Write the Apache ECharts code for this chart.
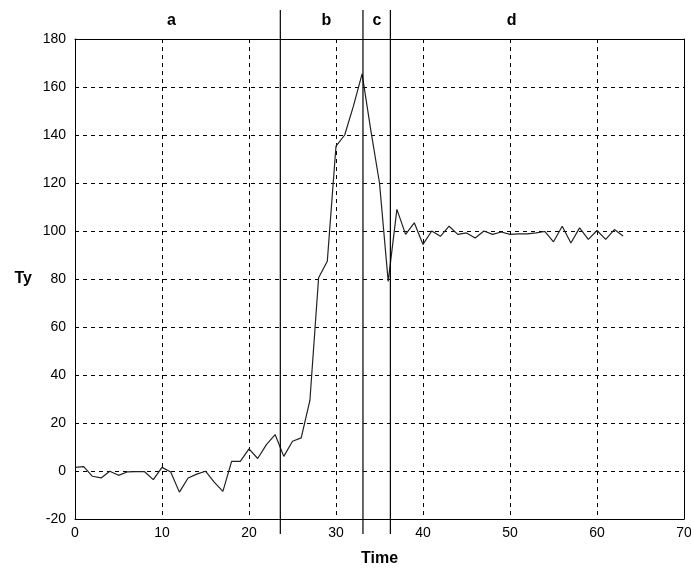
<!DOCTYPE html>
<html>
<head>
<meta charset="utf-8">
<script src="https://cdn.jsdelivr.net/npm/echarts@6/dist/echarts.min.js"></script>
<style>html,body{margin:0;padding:0;background:#fff;}#c{width:691px;height:569px;}</style>
</head>
<body>
<div id="c"></div>
<script>
// Data
var time = [0,1,2,3,4,5,6,7,8,9,10,11,12,13,14,15,16,17,18,19,20,21,22,23,24,25,26,27,28,29,30,31,32,33,34,35,36,37,38,39,40,41,42,43,44,45,46,47,48,49,50,51,52,53,54,55,56,57,58,59,60,61,62,63];
var ty = [1.5,1.8,-2.2,-2.9,-0.1,-1.8,-0.4,-0.3,-0.3,-3.6,1.5,-0.4,-8.8,-2.9,-1.3,-0.1,-4.6,-8.5,4,4,9.2,5.2,11,15.2,6.1,12.4,13.8,29.4,80.5,87.4,135.4,140,152,165.5,142,120,79,109,98.6,103.4,94.4,100,97.8,102,98.6,99.2,97.1,100,98.6,99.6,98.6,98.8,98.8,99.2,99.8,95.5,102,95,101.3,96.5,100.2,96.5,100.6,97.9];
var phaseBounds = [23.6, 33.1, 36.25];
var phaseNames = ['a','b','c','d'];
var phaseLabelX = [11.1, 28.9, 34.7, 50.2];
var xTicks = [0,10,20,30,40,50,60,70];
var yTicks = [-20,0,20,40,60,80,100,120,140,160,180];

var chart = echarts.init(document.getElementById('c'), null, {renderer:'canvas'});
var xMin = xTicks[0], xMax = xTicks[xTicks.length-1];
var yMax = yTicks[yTicks.length-1], yMin = yTicks[0];
var font = 'Liberation Sans, Arial, sans-serif';
var frameAxis = {
  axisLine: {show: true, onZero: false, lineStyle: {color: '#000', width: 1}},
  axisTick: {show: false}, axisLabel: {show: false}, splitLine: {show: false}
};
chart.setOption({
  animation: false,
  backgroundColor: '#fff',
  grid: {left: 75, right: 7, top: 39, bottom: 50, show: false, containLabel: false, outerBoundsMode: 'none'},
  xAxis: [{
    type: 'value', min: xMin, max: xMax, interval: 10,
    name: 'Time', nameLocation: 'middle', nameGap: 32,
    nameTextStyle: {color: '#000', fontSize: 16, fontWeight: 'bold', fontFamily: font},
    axisLine: {show: true, onZero: false, lineStyle: {color: '#000', width: 1}},
    axisTick: {show: false},
    axisLabel: {color: '#000', fontSize: 14, fontFamily: font, margin: 7},
    splitLine: {show: true, lineStyle: {color: '#000', type: [4,4], width: 1}}
  }, Object.assign({type: 'value', position: 'top', min: xMin, max: xMax, interval: 10}, frameAxis)],
  yAxis: [{
    type: 'value', min: yMin, max: yMax, interval: 20,
    name: 'Ty', nameLocation: 'middle', nameGap: 43, nameRotate: 0,
    nameTextStyle: {color: '#000', fontSize: 16, fontWeight: 'bold', fontFamily: font},
    axisLine: {show: true, onZero: false, lineStyle: {color: '#000', width: 1}},
    axisTick: {show: false},
    axisLabel: {color: '#000', fontSize: 14, fontFamily: font, margin: 9},
    splitLine: {show: true, lineStyle: {color: '#000', type: [4,4], width: 1}}
  }, Object.assign({type: 'value', position: 'right', min: yMin, max: yMax, interval: 20}, frameAxis)],
  series: [
    {
      type: 'line', data: time.map(function(t,i){return [t, ty[i]];}),
      showSymbol: false, lineStyle: {color: '#222', width: 1.2}, z: 3
    },
    {
      type: 'custom', clip: false, z: 4,
      data: phaseBounds.map(function(x){return [x];}),
      renderItem: function(params, api){
        var top = api.coord([api.value(0), yMax]);
        var bot = api.coord([api.value(0), yMin]);
        return {type: 'line', shape: {x1: top[0], y1: top[1]-29, x2: bot[0], y2: bot[1]+15},
          style: {stroke: '#000', lineWidth: 1.2}};
      }
    },
    {
      type: 'custom', clip: false, z: 4,
      data: phaseLabelX.map(function(x,i){return [x, phaseNames[i]];}),
      dimensions: ['x','name'],
      renderItem: function(params, api){
        var p = api.coord([api.value(0), yMax]);
        return {type: 'text', x: p[0], y: p[1]-18,
          style: {text: phaseNames[params.dataIndex], fill: '#000', font: 'bold 16px ' + font, align: 'center', verticalAlign: 'middle'}};
      }
    }
  ]
});
</script>
</body>
</html>
